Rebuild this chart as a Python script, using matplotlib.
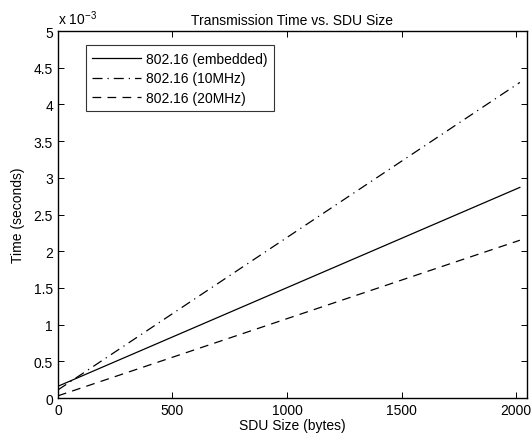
import numpy as np
import matplotlib.pyplot as plt

plt.rcParams['font.family'] = ['Liberation Sans', 'DejaVu Sans']
plt.rcParams['mathtext.fontset'] = 'custom'
plt.rcParams['mathtext.rm'] = 'Liberation Sans'

# SDU size (bytes) and transmission time (seconds)
sdu_size = [0, 2016]
t_embedded = [0.16e-3, 2.87e-3]
t_10mhz = [0.11e-3, 4.30e-3]
t_20mhz = [0.03e-3, 2.15e-3]
labels = ['802.16 (embedded)', '802.16 (10MHz)', '802.16 (20MHz)']

scale = 1e3  # plot in units of 10^-3 s

fig = plt.figure(figsize=(5.31, 4.39), dpi=100)
ax = fig.add_axes([0.109, 0.091, 0.883, 0.836])

ax.plot(sdu_size, np.array(t_embedded) * scale, color='black', lw=0.9, ls='-', label=labels[0])
ax.plot(sdu_size, np.array(t_10mhz) * scale, color='black', lw=0.9, ls=(0, (8, 4, 1, 4)), label=labels[1])
ax.plot(sdu_size, np.array(t_20mhz) * scale, color='black', lw=0.9, ls=(0, (7, 5)), label=labels[2])

ax.set_xlim(0, 2046)
ax.set_ylim(0, 5)
ax.set_xticks([0, 500, 1000, 1500, 2000])
ax.set_yticks(np.arange(0, 5.01, 0.5))
ax.set_yticklabels(['0', '0.5', '1', '1.5', '2', '2.5', '3', '3.5', '4', '4.5', '5'])
ax.tick_params(direction='in', top=True, right=True, labelsize=10, length=4, width=0.7)
for s in ax.spines.values():
    s.set_linewidth(1.0)

ax.set_xlabel('SDU Size (bytes)', fontsize=10, labelpad=1)
ax.set_ylabel('Time (seconds)', fontsize=10, labelpad=6)
ax.set_title('Transmission Time vs. SDU Size', fontsize=10, pad=5)
ax.text(0.0, 1.012, r'x 10$^{-3}$', transform=ax.transAxes, fontsize=10, ha='left', va='bottom')

leg = ax.legend(loc='upper left', bbox_to_anchor=(0.045, 0.98), fontsize=10, frameon=True,
                fancybox=False, edgecolor='black', handlelength=3.5, borderpad=0.45,
                labelspacing=0.42, handletextpad=0.4)
leg.get_frame().set_linewidth(0.8)

fig.savefig('out.png', dpi=100)
